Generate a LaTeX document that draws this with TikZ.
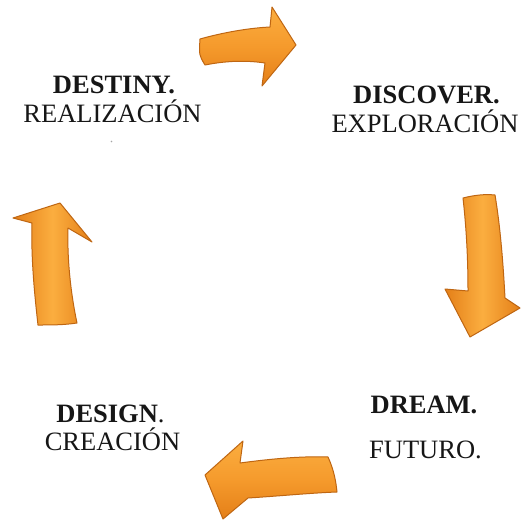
\documentclass[tikz,border=0pt]{standalone}
\usepackage{fontspec}
\setmainfont{Liberation Serif}
\definecolor{oLight}{HTML}{FBAE40}
\definecolor{oMid}{HTML}{F59A2C}
\definecolor{oDark}{HTML}{E47F18}
\definecolor{oEdge}{HTML}{BF6612}
\definecolor{txt}{HTML}{161616}
\tikzset{
  lbl/.style={anchor=base, inner sep=0pt, text=txt, font=\fontsize{26.5}{31}\selectfont},
  lblb/.style={lbl, font=\fontsize{26.5}{31}\selectfont\bfseries},
  arrH/.style={draw=oEdge, line width=1pt, line join=round, top color=oLight, bottom color=oDark, middle color=oMid},
  arrV/.style={draw=oEdge, line width=1pt, line join=round, left color=oDark, right color=oDark, middle color=oLight}
}
\begin{document}
\begin{tikzpicture}[x=1pt,y=-1pt]
\useasboundingbox[fill=white] (0,0) rectangle (521,522);
% top arrow (right)
\shade[arrH] (200,39) .. controls (225,32) and (250,28) .. (270,27) -- (272,7) -- (296,45) -- (262,86) -- (265,63) .. controls (245,60) and (225,61) .. (205,65) .. controls (199,55) .. cycle;
% right arrow (down)
\shade[arrV] (463,198) .. controls (475,195) and (485,194) .. (495,195) .. controls (500,225) and (503,260) .. (505,298) -- (520,308) -- (470,337) -- (445,289) -- (468,291) .. controls (468,255) and (466,225) .. cycle;
% bottom arrow (left)
\shade[arrH] (205,475) -- (243,441) -- (240,463) .. controls (270,459) and (300,456) .. (328,457) .. controls (334,470) and (336,482) .. (337,492) .. controls (310,493) and (280,496) .. (248,498) -- (223,519) -- cycle;
% left arrow (up)
\shade[arrV] (60,203) -- (92,242) -- (68,228) .. controls (67,260) and (71,295) .. (77,323) .. controls (64,325) and (51,325) .. (38,325) .. controls (34,290) and (31,255) .. (32,223) -- (13,218) -- cycle;
% labels
\node[lblb] (destiny) at (114,93) {DESTINY.};
\node[lbl] (realiz) at (112.5,122) {REALIZACIÓN};
\node[lblb] (discover) at (426.5,103) {DISCOVER.};
\node[lbl] (explor) at (425,132) {EXPLORACIÓN};
\node[lbl] (design) at (110.5,422) {\textbf{DESIGN}.};
\node[lbl] (creacion) at (112.5,450) {CREACIÓN};
\node[lblb] (dream) at (424,413) {DREAM.};
\node[lbl] (futuro) at (425.5,458) {FUTURO.};
\fill[gray!70] (111.5,141.5) circle (0.9);
\end{tikzpicture}
\end{document}
